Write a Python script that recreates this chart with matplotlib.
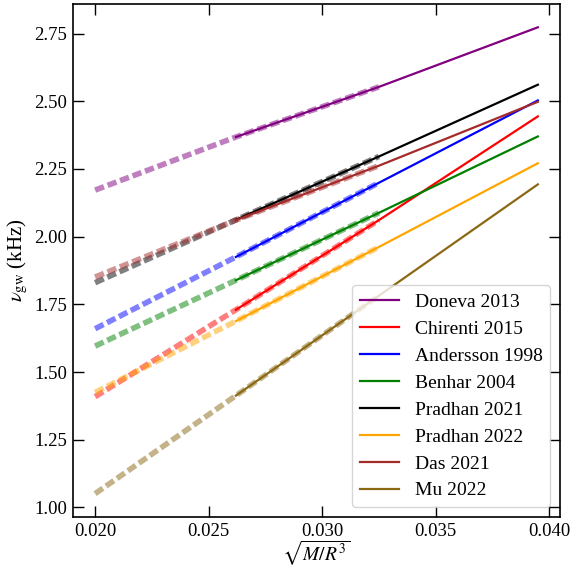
import matplotlib
matplotlib.use("Agg")
import matplotlib.pyplot as plt

plt.rcParams['font.family'] = ['Liberation Serif', 'DejaVu Serif']
plt.rcParams['mathtext.fontset'] = 'stix'

# x positions (sqrt(M/R^3))
x_dashed = [0.0200, 0.0262, 0.0325]
x_solid = [0.0262, 0.0325, 0.0395]

labels = ["Doneva 2013", "Chirenti 2015", "Andersson 1998", "Benhar 2004",
          "Pradhan 2021", "Pradhan 2022", "Das 2021", "Mu 2022"]
colors = ["purple", "red", "blue", "green", "black", "orange", "brown", "#8b6914"]

# values at x = 0.0200, 0.0262, 0.0325, 0.0395 (kHz)
doneva = [2.172, 2.368, 2.553, 2.773]
chirenti = [1.409, 1.730, 2.061, 2.444]
andersson = [1.660, 1.925, 2.199, 2.503]
benhar = [1.596, 1.839, 2.088, 2.370]
pradhan21 = [1.830, 2.062, 2.296, 2.561]
pradhan22 = [1.425, 1.688, 1.962, 2.271]
das = [1.851, 2.061, 2.262, 2.498]
mu = [1.051, 1.413, 1.782, 2.193]

series = [doneva, chirenti, andersson, benhar, pradhan21, pradhan22, das, mu]

fig = plt.figure(figsize=(5.72, 5.69), dpi=100)
ax = fig.add_axes([0.1276, 0.0914, 0.8514, 0.9016])

for vals, c in zip(series, colors):
    ax.plot(x_dashed, vals[:3], color=c, lw=4, alpha=0.5,
            linestyle=(0, (1.7, 0.7)), solid_capstyle='butt', dash_capstyle='butt')
for vals, c, lab in zip(series, colors, labels):
    ax.plot(x_solid, vals[1:], color=c, lw=1.6, label=lab)

ax.set_xticks([0.020, 0.025, 0.030, 0.035, 0.040])
ax.set_xticklabels(["0.020", "0.025", "0.030", "0.035", "0.040"])
ax.set_yticks([1.00, 1.25, 1.50, 1.75, 2.00, 2.25, 2.50, 2.75])
ax.set_yticklabels(["1.00", "1.25", "1.50", "1.75", "2.00", "2.25", "2.50", "2.75"])
ax.tick_params(direction='in', top=True, right=True, length=8, width=1,
               labelsize=13.5, pad=4)
for s in ax.spines.values():
    s.set_linewidth(1.2)

ax.set_xlabel(r"$\sqrt{M/R^3}$", fontsize=14)
ax.xaxis.set_label_coords(0.5, -0.043)
ax.set_ylabel(r"$\nu_{\rm gw}$ (kHz)", fontsize=15)
ax.yaxis.set_label_coords(-0.088, 0.5)

ax.legend(loc='lower right', fontsize=14, handlelength=2.0, labelspacing=0.48)

fig.savefig("out.png", dpi=100)
